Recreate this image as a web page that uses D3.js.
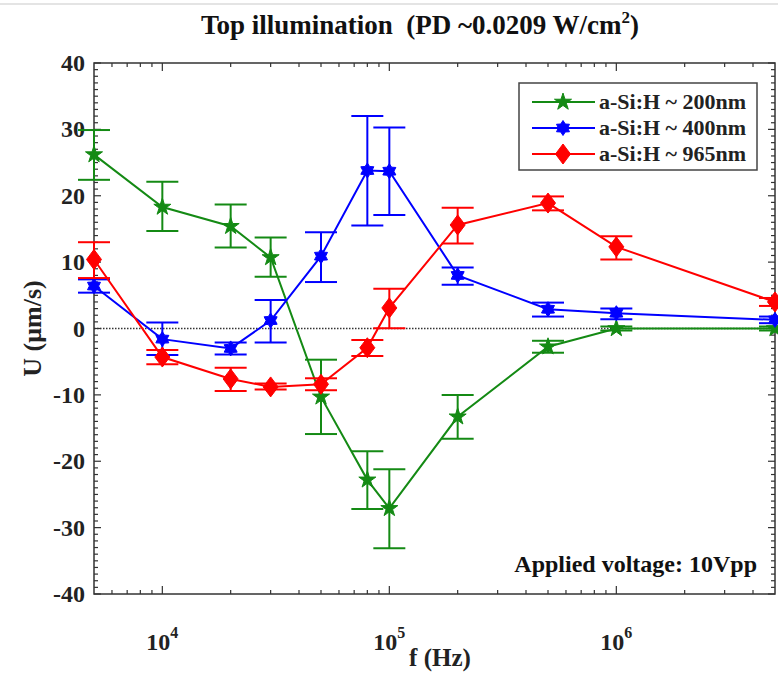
<!DOCTYPE html>
<html>
<head>
<meta charset="utf-8">
<script src="https://cdn.jsdelivr.net/npm/d3@7"></script>
<style>
  body { margin: 0; background: #fff; }
  svg { display: block; font-family: "Liberation Serif", "Times New Roman", serif; font-weight: bold; }
</style>
</head>
<body>
<div id="chart"></div>
<script>
// frequencies (Hz)
const freqs = [5e3, 1e4, 2e4, 3e4, 5e4, 8e4, 1e5, 2e5, 5e5, 1e6, 5e6];

// a-Si:H ~ 200nm
const u200 = [26.2, 18.3, 15.4, 10.7, -10.3, -22.8, -27.1, -13.3, -2.75, 0.0, 0.0];
const lo200 = [22.4, 14.7, 12.2, 7.8, -15.9, -27.2, -33.1, -16.6, -3.65, -0.3, -0.3];
const hi200 = [29.9, 22.1, 18.7, 13.7, -4.7, -18.5, -21.2, -10.0, -1.85, 0.3, 0.3];

// a-Si:H ~ 400nm
const u400 = [6.4, -1.6, -3.0, 1.2, 10.9, 23.8, 23.7, 8.0, 2.9, 2.3, 1.3];
const lo400 = [5.4, -4.0, -3.9, -2.1, 7.0, 15.5, 17.1, 6.6, 1.8, 1.4, 0.8];
const hi400 = [7.4, 0.9, -2.1, 4.3, 14.5, 32.0, 30.3, 9.2, 3.9, 3.0, 1.8];

// a-Si:H ~ 965nm
const u965 = [10.4, -4.3, -7.6, -8.8, -8.4, -2.9, 3.1, 15.6, 18.9, 12.3, 4.0];
const lo965 = [7.6, -5.4, -9.4, -9.2, -9.3, -4.15, 0.05, 12.8, 17.8, 10.4, 3.4];
const hi965 = [13.0, -3.25, -5.9, -8.3, -7.5, -1.75, 6.0, 18.2, 19.9, 13.9, 4.6];

const seriesNames = ["a-Si:H ~ 200nm", "a-Si:H ~ 400nm", "a-Si:H ~ 965nm"];
const seriesColors = ["#148a14", "#0000ff", "#ff0000"];
const yTicks = [-40, -30, -20, -10, 0, 10, 20, 30, 40];
const xTicks = [1e4, 1e5, 1e6];

const series = [
  { name: seriesNames[0], color: seriesColors[0], shape: "star", u: u200, lo: lo200, hi: hi200 },
  { name: seriesNames[1], color: seriesColors[1], shape: "hex", u: u400, lo: lo400, hi: hi400 },
  { name: seriesNames[2], color: seriesColors[2], shape: "diamond", u: u965, lo: lo965, hi: hi965 }
];

const W = 778, H = 673;
const mLeft = 94, mRight = 775, mTop = 63, mBottom = 594;

const svg = d3.select("#chart").append("svg")
  .attr("width", W).attr("height", H);

// faint screenshot edge line at top
svg.append("line")
  .attr("x1", 0).attr("x2", W).attr("y1", 4).attr("y2", 4)
  .attr("stroke", "#e4e4e4").attr("stroke-width", 2);

const x = d3.scaleLog().domain([5e3, 5e6]).range([mLeft, mRight]);
const y = d3.scaleLinear().domain([-40, 40]).range([mBottom, mTop]);

// title
const title = svg.append("text")
  .attr("x", 420).attr("y", 34)
  .attr("text-anchor", "middle")
  .attr("font-size", 27).attr("fill", "#111");
title.append("tspan").text("Top illumination\u00a0\u00a0(PD ~0.0209 W/cm");
title.append("tspan").attr("font-size", 17).attr("dy", -11).text("2");
title.append("tspan").attr("dy", 11).text(")");

// frame
svg.append("rect")
  .attr("x", mLeft).attr("y", mTop)
  .attr("width", mRight - mLeft).attr("height", mBottom - mTop)
  .attr("fill", "none").attr("stroke", "#333").attr("stroke-width", 1.5);

// y ticks (inside, both sides)
const yMinor = d3.range(-40, 41, 1);
const tickG = svg.append("g").attr("stroke", "#333").attr("stroke-width", 1.2);
yMinor.forEach(v => {
  const len = v % 10 === 0 ? 7 : 4;
  tickG.append("line").attr("x1", mLeft).attr("x2", mLeft + len).attr("y1", y(v)).attr("y2", y(v));
  tickG.append("line").attr("x1", mRight).attr("x2", mRight - len).attr("y1", y(v)).attr("y2", y(v));
});

// x ticks (log minor), inside, top and bottom
const xMinor = [];
[3, 4, 5, 6].forEach(e => d3.range(1, 10).forEach(m => {
  const v = m * Math.pow(10, e);
  if (v > 5e3 && v < 5e6) xMinor.push(v);
}));
xMinor.forEach(v => {
  const len = xTicks.includes(v) ? 8 : 4;
  tickG.append("line").attr("x1", x(v)).attr("x2", x(v)).attr("y1", mBottom).attr("y2", mBottom - len);
  tickG.append("line").attr("x1", x(v)).attr("x2", x(v)).attr("y1", mTop).attr("y2", mTop + len);
});

// y tick labels
svg.append("g").selectAll("text")
  .data(yTicks).join("text")
  .attr("x", mLeft - 9).attr("y", d => y(d) + 8)
  .attr("text-anchor", "end")
  .attr("font-size", 24)
  .attr("fill", "#222")
  .text(d => d);

// x tick labels with superscript
xTicks.forEach(v => {
  const t = svg.append("text")
    .attr("x", x(v) - 16).attr("y", 650)
    .attr("font-size", 24).attr("fill", "#222");
  t.append("tspan").text("10");
  t.append("tspan").attr("font-size", 16).attr("dy", -12).text(Math.log10(v));
});

// axis titles
svg.append("text")
  .attr("x", 440).attr("y", 666)
  .attr("text-anchor", "middle")
  .attr("font-size", 25).attr("fill", "#222")
  .text("f (Hz)");

svg.append("text")
  .attr("transform", `translate(41, ${y(0)}) rotate(-90)`)
  .attr("text-anchor", "middle")
  .attr("font-size", 26).attr("fill", "#222")
  .text("U (\u03bcm/s)");

// zero dotted line
svg.append("line")
  .attr("x1", mLeft).attr("x2", mRight).attr("y1", y(0)).attr("y2", y(0))
  .attr("stroke", "#333").attr("stroke-width", 1.3).attr("stroke-dasharray", "1.5,1.5");

// marker paths
function markerPath(shape) {
  if (shape === "star") {
    return d3.symbol(d3.symbolStar, 90)();
  }
  if (shape === "diamond") {
    return "M0,-10L7.5,0L0,10L-7.5,0Z";
  }
  // hexagram
  const pts = [];
  for (let i = 0; i < 12; i++) {
    const r = i % 2 === 0 ? 7.5 : 4.6;
    const a = Math.PI / 6 * i;
    pts.push([r * Math.sin(a), -r * Math.cos(a)]);
  }
  return "M" + pts.map(p => p.join(",")).join("L") + "Z";
}

const plot = svg.append("g");

const line = d3.line()
  .x(d => x(d.f))
  .y(d => y(d.u));

series.forEach(s => {
  const pts = freqs.map((f, i) => ({ f: f, u: s.u[i], lo: s.lo[i], hi: s.hi[i] }));
  const g = plot.append("g");

  // error bars
  const eb = g.selectAll(".eb").data(pts).join("g")
    .attr("stroke", s.color).attr("stroke-width", 2);
  eb.append("line")
    .attr("x1", d => x(d.f)).attr("x2", d => x(d.f))
    .attr("y1", d => y(d.lo)).attr("y2", d => y(d.hi));
  eb.append("line")
    .attr("x1", d => x(d.f) - 16).attr("x2", d => x(d.f) + 16)
    .attr("y1", d => y(d.lo)).attr("y2", d => y(d.lo));
  eb.append("line")
    .attr("x1", d => x(d.f) - 16).attr("x2", d => x(d.f) + 16)
    .attr("y1", d => y(d.hi)).attr("y2", d => y(d.hi));

  g.append("path")
    .datum(pts)
    .attr("d", line)
    .attr("fill", "none")
    .attr("stroke", s.color)
    .attr("stroke-width", 2);

  g.selectAll(".mk").data(pts).join("path")
    .attr("transform", d => `translate(${x(d.f)},${y(d.u)})`)
    .attr("d", markerPath(s.shape))
    .attr("fill", s.color)
    .attr("stroke", s.color)
    .attr("stroke-width", 1);
});

// legend
const legend = svg.append("g").attr("transform", "translate(519, 83)");
legend.append("rect")
  .attr("width", 238).attr("height", 87)
  .attr("fill", "#fff").attr("stroke", "#444").attr("stroke-width", 1.5);

series.forEach((s, i) => {
  const ly = 19 + i * 26;
  legend.append("line")
    .attr("x1", 13).attr("x2", 76).attr("y1", ly).attr("y2", ly)
    .attr("stroke", s.color).attr("stroke-width", 2);
  legend.append("path")
    .attr("transform", `translate(44, ${ly})`)
    .attr("d", markerPath(s.shape))
    .attr("fill", s.color).attr("stroke", s.color);
  legend.append("text")
    .attr("x", 80).attr("y", ly + 7)
    .attr("font-size", 22).attr("fill", "#222")
    .text(s.name);
});

// annotation
svg.append("text")
  .attr("x", 757).attr("y", 572)
  .attr("text-anchor", "end")
  .attr("font-size", 24).attr("fill", "#111")
  .text("Applied voltage: 10Vpp");
</script>
</body>
</html>
